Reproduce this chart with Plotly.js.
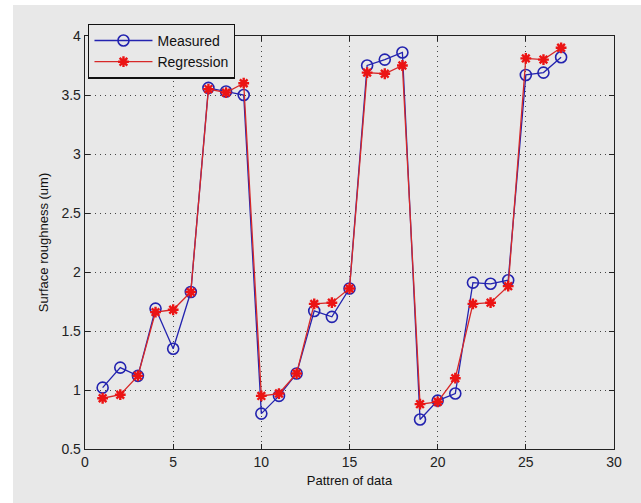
<!DOCTYPE html>
<html>
<head>
<meta charset="utf-8">
<script src="https://cdn.plot.ly/plotly-3.0.1.min.js"></script>
<style>
  html, body { margin: 0; padding: 0; background: #ffffff; width: 641px; height: 503px; overflow: hidden; }
  #chart { position: absolute; left: 13px; top: 5px; width: 628px; height: 498px; }
</style>
</head>
<body>
<div id="chart"></div>
<script>
const patterns = [1,2,3,4,5,6,7,8,9,10,11,12,13,14,15,16,17,18,19,20,21,22,23,24,25,26,27];
const measured = [1.02,1.19,1.12,1.69,1.35,1.83,3.56,3.53,3.50,0.80,0.95,1.14,1.67,1.62,1.86,3.75,3.80,3.86,0.75,0.91,0.97,1.91,1.90,1.93,3.67,3.69,3.82];
const regression = [0.93,0.96,1.12,1.66,1.68,1.83,3.55,3.52,3.60,0.95,0.97,1.14,1.73,1.74,1.86,3.69,3.68,3.75,0.88,0.90,1.10,1.73,1.74,1.88,3.81,3.80,3.90];
const xTicks = [0,5,10,15,20,25,30];
const yTicks = [0.5,1,1.5,2,2.5,3,3.5,4];

const bg = '#e8e8e8';
const fontFam = 'Liberation Sans, Arial, sans-serif';

const traces = [
  {
    x: patterns, y: measured, name: 'Measured', type: 'scatter', mode: 'lines+markers',
    line: {color: 'rgb(35,35,175)', width: 1.3},
    marker: {symbol: 'circle-open', size: 11, color: 'rgb(35,35,175)', line: {width: 1.6, color: 'rgb(35,35,175)'}}
  },
  {
    x: patterns, y: regression, name: 'Regression', type: 'scatter', mode: 'lines+markers',
    line: {color: 'rgb(215,40,40)', width: 1.3},
    marker: {symbol: 'asterisk-open', size: 9, color: 'rgb(235,20,20)', line: {width: 2.4, color: 'rgb(235,20,20)'}}
  }
];

const layout = {
  width: 628, height: 498,
  paper_bgcolor: bg, plot_bgcolor: bg,
  margin: {l: 72, r: 27, t: 31, b: 54},
  font: {family: fontFam, size: 14, color: '#222'},
  showlegend: true,
  legend: {
    x: 0.006, y: 1.03, xanchor: 'left', yanchor: 'top',
    bgcolor: bg, bordercolor: '#111', borderwidth: 1.3,
    font: {family: fontFam, size: 14, color: '#111'},
    itemwidth: 58, tracegroupgap: 0
  },
  xaxis: {
    range: [0, 30], tickvals: xTicks, ticktext: xTicks.map(String),
    ticks: 'inside', ticklen: 5, tickcolor: '#222', tickwidth: 1,
    showline: true, linecolor: '#222', linewidth: 1.3, mirror: 'ticks',
    showgrid: true, gridcolor: '#444', griddash: '1px,4px', gridwidth: 1,
    zeroline: false,
    tickfont: {family: fontFam, size: 14, color: '#222'},
    title: {text: 'Pattren of data', font: {family: fontFam, size: 13, color: '#111'}, standoff: 6}
  },
  yaxis: {
    range: [0.5, 4], tickvals: yTicks, ticktext: yTicks.map(String),
    ticks: 'inside', ticklen: 5, tickcolor: '#222', tickwidth: 1,
    showline: true, linecolor: '#222', linewidth: 1.3, mirror: 'ticks',
    showgrid: true, gridcolor: '#444', griddash: '1px,4px', gridwidth: 1,
    zeroline: false,
    tickfont: {family: fontFam, size: 14, color: '#222'},
    title: {text: 'Surface roughness (um)', font: {family: fontFam, size: 13, color: '#111'}, standoff: 10}
  }
};

Plotly.newPlot('chart', traces, layout, {displayModeBar: false, staticPlot: true});
</script>
</body>
</html>
